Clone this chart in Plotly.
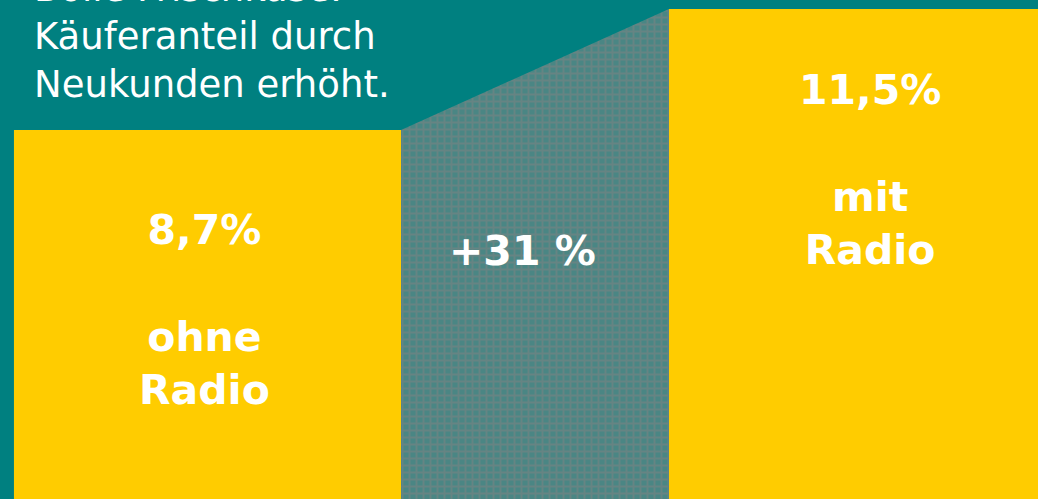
import plotly.graph_objects as go

# Data
categories = ["ohne Radio", "mit Radio"]
values = [8.7, 11.5]
value_labels = ["8,7%", "11,5%"]
change_label = "+31 %"
title_lines = ["Bolle Frischkäse:", "Käuferanteil durch", "Neukunden erhöht."]

TEAL = "#008080"
YELLOW = "#FFCC00"
FONT = "DejaVu Sans"

pos = [0, 1]
w = 0.591
y_min, y_max = 0.16, 11.71

fig = go.Figure()

# trapezoid connecting the two bars
fig.add_trace(go.Scatter(
    x=[pos[0] + w / 2, pos[1] - w / 2, pos[1] - w / 2, pos[0] + w / 2, pos[0] + w / 2],
    y=[values[0], values[1], 0, 0, values[0]],
    mode="lines", line=dict(width=0), fill="toself",
    fillcolor="#6a8886",
    fillpattern=dict(shape="+", fgcolor="#828282", bgcolor="#4a8684", size=7, solidity=0.45),
    hoverinfo="skip",
))

fig.add_trace(go.Bar(
    x=pos, y=values, width=[w, w], marker=dict(color=YELLOW, line=dict(width=0)),
    hoverinfo="skip",
))

bold = dict(family=FONT, size=41, color="white")

# bar labels
fig.add_annotation(x=pos[0], y=1 - 204 / 499, xref="x", yref="paper", yanchor="top",
                   text="<b>%s<br><br>%s<br>%s</b>" % (value_labels[0], *categories[0].split(" ")),
                   showarrow=False, font=bold, xshift=-3)
fig.add_annotation(x=pos[1], y=1 - 64 / 499, xref="x", yref="paper", yanchor="top",
                   text="<b>%s<br><br>%s<br>%s</b>" % (value_labels[1], *categories[1].split(" ")),
                   showarrow=False, font=bold, xshift=8)
fig.add_annotation(x=(pos[0] + pos[1]) / 2, y=1 - 225 / 499, xref="x", yref="paper", yanchor="top",
                   text="<b>%s</b>" % change_label, showarrow=False, font=bold, xshift=-12)

# title
fig.add_annotation(x=32 / 1038, y=1 - 108 / 499, xref="paper", yref="paper",
                   xanchor="left", yanchor="bottom", align="left",
                   text="<br>".join(title_lines), showarrow=False,
                   font=dict(family=FONT, size=37, color="white"))

fig.update_layout(
    width=1038, height=499, margin=dict(l=0, r=0, t=0, b=0),
    paper_bgcolor=TEAL, plot_bgcolor=TEAL, showlegend=False,
    xaxis=dict(range=[-0.3168, 1.268], visible=False, fixedrange=True),
    yaxis=dict(range=[y_min, y_max], visible=False, fixedrange=True),
)

fig.write_html("out.html", config={"displayModeBar": False},
               post_script="document.body.style.margin='0';document.body.style.overflow='hidden';")
